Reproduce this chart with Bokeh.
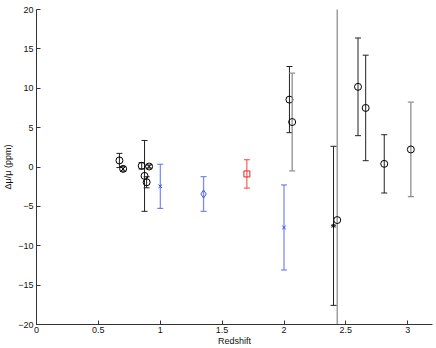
from bokeh.plotting import figure
from bokeh.models import Range1d, FixedTicker, ColumnDataSource
from bokeh.embed import file_html
from bokeh.resources import INLINE

# --- data (redshift, delta mu / mu in ppm, 1-sigma error) ---
circ_z   = [0.67, 0.85, 0.873, 0.89, 2.044, 2.598, 2.66, 2.81]
circ_v   = [0.83, 0.15, -1.13, -1.94, 8.56, 10.18, 7.5, 0.4]
circ_e   = [0.9, 0.4, 4.5, 0.7, 4.2, 6.2, 6.7, 3.7]

circg_z  = [2.066, 2.43, 3.025]
circg_v  = [5.71, -6.74, 2.23]
circg_e  = [6.2, 30.0, 6.0]

cx_z     = [0.70, 0.91]
cx_v     = [-0.24, 0.06]
cx_e     = [0.3, 0.2]

ast_z    = [2.40]
ast_v    = [-7.47]
ast_e    = [10.1]

bx_z     = [1.0, 2.0]
bx_v     = [-2.45, -7.68]
bx_e     = [2.8, 5.4]

bd_z     = [1.35]
bd_v     = [-3.43]
bd_e     = [2.2]

rs_z     = [1.70]
rs_v     = [-0.88]
rs_e     = [1.8]

yticks = [-20, -15, -10, -5, 0, 5, 10, 15, 20]
xticks = [0, 0.5, 1, 1.5, 2, 2.5, 3]

FONT = "Liberation Sans"

p = figure(width=436, height=348, output_backend="svg", toolbar_location=None,
           x_range=Range1d(0, 3.2), y_range=Range1d(-20, 20),
           min_border_left=4, min_border_right=4, min_border_top=9, min_border_bottom=0)
p.outline_line_color = None
p.xgrid.visible = False
p.ygrid.visible = False

def errs(z, v, e, color, width=1.0, marker=None, size=6, fill=None, mline=None):
    lo = [a - b for a, b in zip(v, e)]
    hi = [a + b for a, b in zip(v, e)]
    src = ColumnDataSource(dict(z=z, v=v, lo=lo, hi=hi))
    p.segment(x0="z", y0="lo", x1="z", y1="hi", source=src, line_color=color, line_width=width)
    p.scatter(x="z", y="lo", source=src, marker="dash", size=6, line_color=color, line_width=width)
    p.scatter(x="z", y="hi", source=src, marker="dash", size=6, line_color=color, line_width=width)
    if marker:
        p.scatter(x="z", y="v", source=src, marker=marker, size=size,
                  line_color=mline or color, fill_color=fill, line_width=1.0)

errs(circ_z, circ_v, circ_e, "#222222", marker="circle", size=7, mline="black")
errs(circg_z, circg_v, circg_e, "#8f8f8f", width=1.3, marker="circle", size=7, mline="black")
errs(cx_z, cx_v, cx_e, "#444444", marker="circle_x", size=7, mline="black")
errs(ast_z, ast_v, ast_e, "#222222", marker="asterisk", size=5, mline="black")
errs(bx_z, bx_v, bx_e, "#5b6cf2", marker="x", size=5, mline="#3344ee")
errs(bd_z, bd_v, bd_e, "#7d8af2", width=1.3, marker="diamond", size=8, mline="#4455ee")
errs(rs_z, rs_v, rs_e, "#f04040", marker="square", size=6, mline="#ee2222")

for ax in (p.xaxis[0], p.yaxis[0]):
    ax.major_tick_in = 4
    ax.major_tick_out = 0
    ax.minor_tick_in = 0
    ax.minor_tick_out = 0
    ax.axis_line_color = "#333333"
    ax.major_tick_line_color = "#333333"
    ax.major_label_text_font = FONT
    ax.major_label_text_font_size = "9px"
    ax.major_label_text_color = "#111111"
    ax.axis_label_text_font = FONT
    ax.axis_label_text_font_size = "9px"
    ax.axis_label_text_font_style = "normal"
    ax.axis_label_text_color = "#111111"

p.yaxis.major_label_standoff = 3
p.yaxis.axis_label_standoff = 2
p.xaxis.major_label_standoff = 2
p.xaxis.axis_label_standoff = 0

p.xaxis.ticker = FixedTicker(ticks=xticks)
p.yaxis.ticker = FixedTicker(ticks=yticks)
p.xaxis.major_label_overrides = {t: ("%g" % t) for t in xticks}
p.yaxis.major_label_overrides = {t: ("%d" % t).replace("-", "\u2212") for t in yticks}
p.xaxis.axis_label = "Redshift"
p.yaxis.axis_label = "\u0394\u03bc/\u03bc (ppm)"

open("out.html", "w").write(file_html(p, INLINE))
